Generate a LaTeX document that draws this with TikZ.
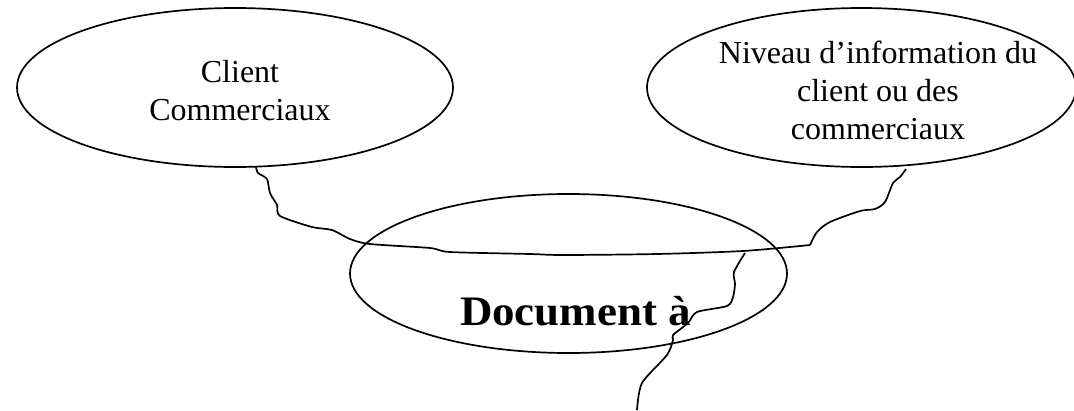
\documentclass[tikz,border=0pt]{standalone}
\usepackage{fontspec}
\setmainfont{Liberation Serif}
\newfontfamily\docfont[FakeStretch=1.07]{Liberation Serif}
\usetikzlibrary{shapes.geometric}
\tikzset{
  x=1pt,y=-1pt,
  oval/.style={draw=black,line width=1.7pt,ellipse,inner sep=0pt},
  caption/.style={align=center,font=\fontsize{32}{38}\selectfont,inner sep=0pt},
  title/.style={font=\docfont\fontsize{42}{48}\selectfont\bfseries,inner sep=0pt},
  wire/.style={draw=black,line width=1.7pt,line join=round}
}
\begin{document}
\begin{tikzpicture}
\useasboundingbox (0,0) rectangle (1074,410);
\node[oval,minimum width=436pt,minimum height=159pt] (client) at (235,87.5) {};
\node[oval,minimum width=429pt,minimum height=159pt] (niveau) at (861.5,87.5) {};
\node[oval,minimum width=437pt,minimum height=159pt] (doc) at (568.5,273.5) {};
\node[caption] (clienttext) at (240,91) {Client\\Commerciaux};
\node[caption] (niveautext) at (878,90) {Niveau d’information du\\client ou des\\commerciaux};
\node[title,anchor=base] (doctext) at (575.5,325) {Document à};
\coordinate (clientfoot) at (256,167);
\coordinate (niveaufoot) at (906,169);
\coordinate (midwire) at (745,253);
\coordinate (loose) at (637,410);
\draw[wire] plot[smooth,tension=0.45] coordinates {(clientfoot) (258,173) (267,179) (270,193) (277,205) (280,216) (312,227) (332,230) (350,239) (370,244) (430,248) (450,252) (530,254) (563,255) (657,254) (743,251) (810,245)};
\draw[wire] plot[smooth,tension=0.45] coordinates {(810,245) (817,232) (830,222) (860,211) (875,209) (885,202) (893,183) (900,177) (niveaufoot)};
\draw[wire] plot[smooth,tension=0.45] coordinates {(midwire) (734,272) (735,284) (733,297) (727,306) (697,312) (688,323) (673,335) (673,340) (667,355) (642,383) (loose)};
\end{tikzpicture}
\end{document}
